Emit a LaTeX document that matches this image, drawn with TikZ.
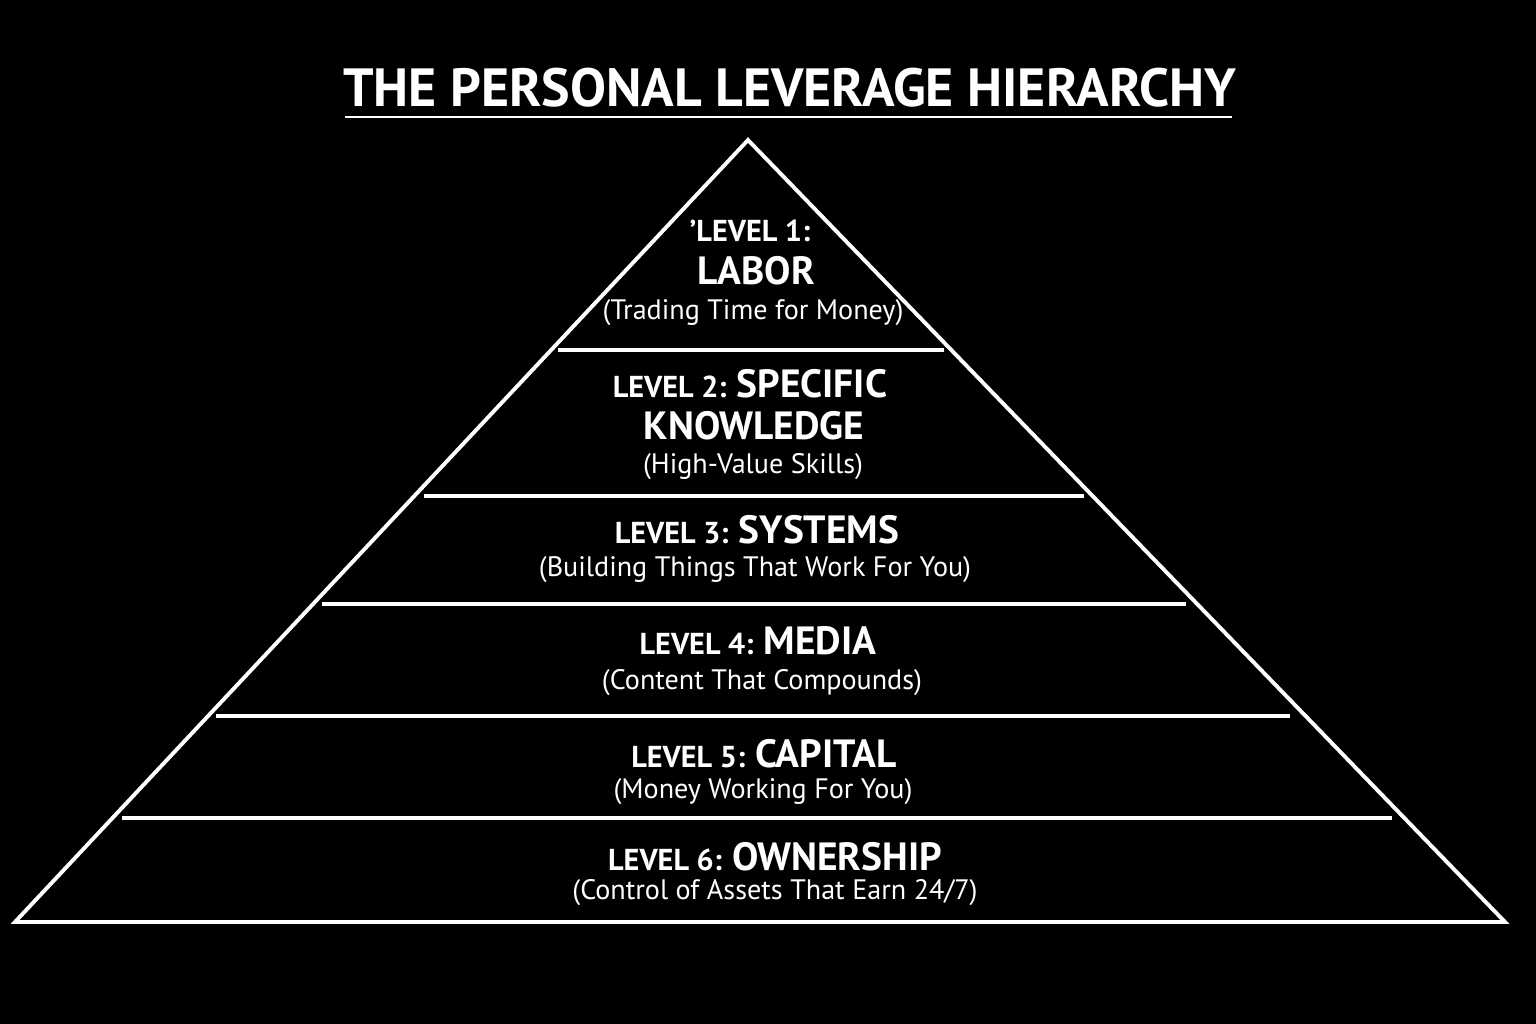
\documentclass[tikz,border=0pt]{standalone}
\usepackage{fontspec}
\setmainfont{PT Sans}
\begin{document}
\begin{tikzpicture}[x=0.01cm,y=-0.01cm,
  ln/.style={draw=white,line width=1.1pt},
  lv/.style={text=white,font=\bfseries\fontsize{8.6}{10}\selectfont},
  big/.style={text=white,font=\bfseries\fontsize{11.2}{13}\selectfont},
  sub/.style={text=white,font=\fontsize{8}{9}\selectfont}]
\fill[black] (0,0) rectangle (1536,1024);
\useasboundingbox (0,0) rectangle (1536,1024);
\node[text=white,font=\bfseries\fontsize{15.3}{18}\selectfont] (title) at (790,88) {THE PERSONAL LEVERAGE HIERARCHY};
\coordinate (ul1) at (345,117); \coordinate (ul2) at (1232,117);
\draw[white,line width=0.6pt] (ul1) -- (ul2);
\coordinate (apex) at (748,140); \coordinate (bl) at (15,922); \coordinate (br) at (1505,922);
\draw[ln,line join=miter] (apex) -- (br) -- (bl) -- cycle;
\foreach \y/\a/\b in {350/558/944,496/424/1084,604/322/1186,716/216/1290,818/122/1392}
  \draw[ln] (\a,\y) -- (\b,\y);
\node[lv] (l1a) at (750,231) {'LEVEL 1:};
\node[big] (l1b) at (756,271) {LABOR};
\node[sub] (l1c) at (753,313) {(Trading Time for Money)};
\node[text=white] (l2a) at (750,384) {\bfseries\fontsize{8.6}{10}\selectfont LEVEL 2: \fontsize{11.2}{13}\selectfont SPECIFIC};
\node[big] (l2b) at (754,426) {KNOWLEDGE};
\node[sub] (l2c) at (753,467) {(High-Value Skills)};
\node[text=white] (l3a) at (757,530) {\bfseries\fontsize{8.6}{10}\selectfont LEVEL 3: \fontsize{11.2}{13}\selectfont SYSTEMS};
\node[sub] (l3b) at (755,570) {(Building Things That Work For You)};
\node[text=white] (l4a) at (758,641) {\bfseries\fontsize{8.6}{10}\selectfont LEVEL 4: \fontsize{11.2}{13}\selectfont MEDIA};
\node[sub] (l4b) at (762,683) {(Content That Compounds)};
\node[text=white] (l5a) at (764,754) {\bfseries\fontsize{8.6}{10}\selectfont LEVEL 5: \fontsize{11.2}{13}\selectfont CAPITAL};
\node[sub] (l5b) at (763,792) {(Money Working For You)};
\node[text=white] (l6a) at (775,857) {\bfseries\fontsize{8.6}{10}\selectfont LEVEL 6: \fontsize{11.2}{13}\selectfont OWNERSHIP};
\node[sub] (l6b) at (775,893) {(Control of Assets That Earn 24/7)};
\end{tikzpicture}
\end{document}
